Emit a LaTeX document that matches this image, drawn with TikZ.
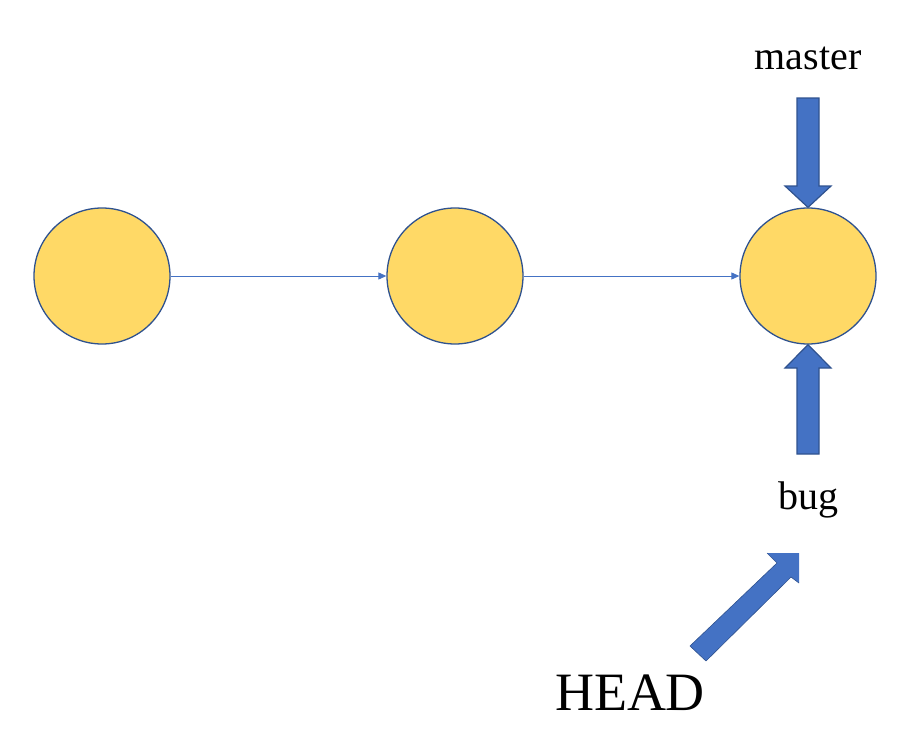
\documentclass[tikz,border=0pt]{standalone}
\usepackage{fontspec}
\setmainfont{Liberation Serif}
\usetikzlibrary{arrows.meta}
\definecolor{cfill}{HTML}{FFD966}
\definecolor{cline}{HTML}{2F528F}
\definecolor{afill}{HTML}{4472C4}
\tikzset{
  commit/.style={circle, draw=cline, fill=cfill, line width=1.3pt, minimum size=136pt, inner sep=0pt},
  link/.style={draw=afill, line width=0.9pt, -{Triangle[length=8pt,width=7pt]}},
  blockarrow/.style={fill=afill, draw=cline, line width=1.2pt, line join=miter},
  lbl/.style={font=\fontsize{40}{48}\selectfont, inner sep=0pt}
}
\begin{document}
\begin{tikzpicture}[x=1pt,y=-1pt]
\useasboundingbox (0,0) rectangle (907,742);
\node[commit] (c1) at (102,276) {};
\node[commit] (c2) at (455,276) {};
\node[commit] (c3) at (808,276) {};
\draw[link] (c1) -- (c2);
\draw[link] (c2) -- (c3);
\node[lbl] (master) at (808,58) {master};
\node[lbl] (bug) at (808,500) {bug};
\node[font=\fontsize{54}{60}\selectfont, inner sep=0pt] (head) at (630,693) {HEAD};
% master arrow
\draw[blockarrow] (797,98) -- (819,98) -- (819,186) -- (831,186) -- (c3.north) -- (785,186) -- (797,186) -- cycle;
% bug arrow
\draw[blockarrow] (797,454) -- (819,454) -- (819,368) -- (831,368) -- (c3.south) -- (785,368) -- (797,368) -- cycle;
% HEAD arrow (tip clipped)
\fill[afill] (706,661) -- (791,577) -- (799,583) -- (799,553) -- (767,553) -- (777,563) -- (690,646) -- cycle;
\draw[cline, line width=0.6pt] (706,661) -- (791,577) -- (799,583) (767,553) -- (777,563) -- (690,646) -- (706,661);
\end{tikzpicture}
\end{document}
